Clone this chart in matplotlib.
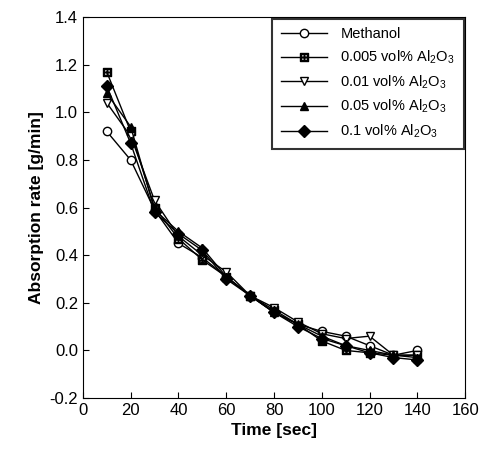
import matplotlib
matplotlib.use("Agg")
import matplotlib.pyplot as plt

plt.rcParams["font.family"] = ["Liberation Sans", "DejaVu Sans"]
plt.rcParams["mathtext.fontset"] = "custom"
plt.rcParams["mathtext.rm"] = "Liberation Sans"
plt.rcParams["mathtext.it"] = "Liberation Sans:italic"
plt.rcParams["mathtext.bf"] = "Liberation Sans:bold"

time = [10, 20, 30, 40, 50, 60, 70, 80, 90, 100, 110, 120, 130, 140]
methanol = [0.92, 0.80, 0.59, 0.45, 0.39, 0.31, 0.23, 0.16, 0.11, 0.08, 0.06, 0.02, -0.02, 0.00]
al_0005 = [1.17, 0.92, 0.60, 0.47, 0.38, 0.31, 0.23, 0.17, 0.11, 0.04, 0.00, -0.01, -0.02, -0.02]
al_001 = [1.04, 0.90, 0.63, 0.48, 0.40, 0.33, 0.23, 0.18, 0.12, 0.07, 0.05, 0.06, -0.02, -0.02]
al_005 = [1.08, 0.94, 0.59, 0.50, 0.43, 0.31, 0.23, 0.16, 0.11, 0.06, 0.02, 0.00, -0.02, -0.03]
al_01 = [1.11, 0.87, 0.58, 0.49, 0.42, 0.30, 0.23, 0.16, 0.10, 0.05, 0.02, -0.01, -0.03, -0.04]

labels = ["Methanol", r"0.005 vol% Al$_\mathrm{2}$O$_\mathrm{3}$",
          r"0.01 vol% Al$_\mathrm{2}$O$_\mathrm{3}$",
          r"0.05 vol% Al$_\mathrm{2}$O$_\mathrm{3}$",
          r"0.1 vol% Al$_\mathrm{2}$O$_\mathrm{3}$"]

fig = plt.figure(figsize=(4.82, 4.65), dpi=100)
ax = fig.add_axes([0.172, 0.144, 0.793, 0.819])

kw = dict(color="black", linewidth=1.0, markersize=6)
ax.plot(time, methanol, marker="o", mfc="white", mec="black", label=labels[0], **kw)
ax.plot(time, al_0005, marker="$\u229e$", label=labels[1], **kw)
ax.plot(time, al_001, marker="v", mfc="white", mec="black", label=labels[2], **kw)
ax.plot(time, al_005, marker="^", mfc="black", label=labels[3], **kw)
ax.plot(time, al_01, marker="D", mfc="black", label=labels[4], **kw)

ax.set_xlim(0, 160)
ax.set_ylim(-0.2, 1.4)
ax.set_xticks(range(0, 161, 20))
ax.set_yticks([-0.2, 0.0, 0.2, 0.4, 0.6, 0.8, 1.0, 1.2, 1.4])
ax.set_yticklabels([f"{v:.1f}" for v in ax.get_yticks()])
ax.tick_params(direction="in", length=4, labelsize=12)
ax.set_xlabel("Time [sec]", fontsize=12.5, fontweight="bold")
ax.set_ylabel("Absorption rate [g/min]", fontsize=12.5, fontweight="bold")

leg = ax.legend(loc="upper right", fontsize=10.5, frameon=True, fancybox=False,
                edgecolor="black", borderaxespad=0.1, handlelength=3.2,
                handletextpad=0.9, labelspacing=0.5, borderpad=0.6)
leg.get_frame().set_linewidth(1.5)

fig.savefig("out.png", dpi=100)
